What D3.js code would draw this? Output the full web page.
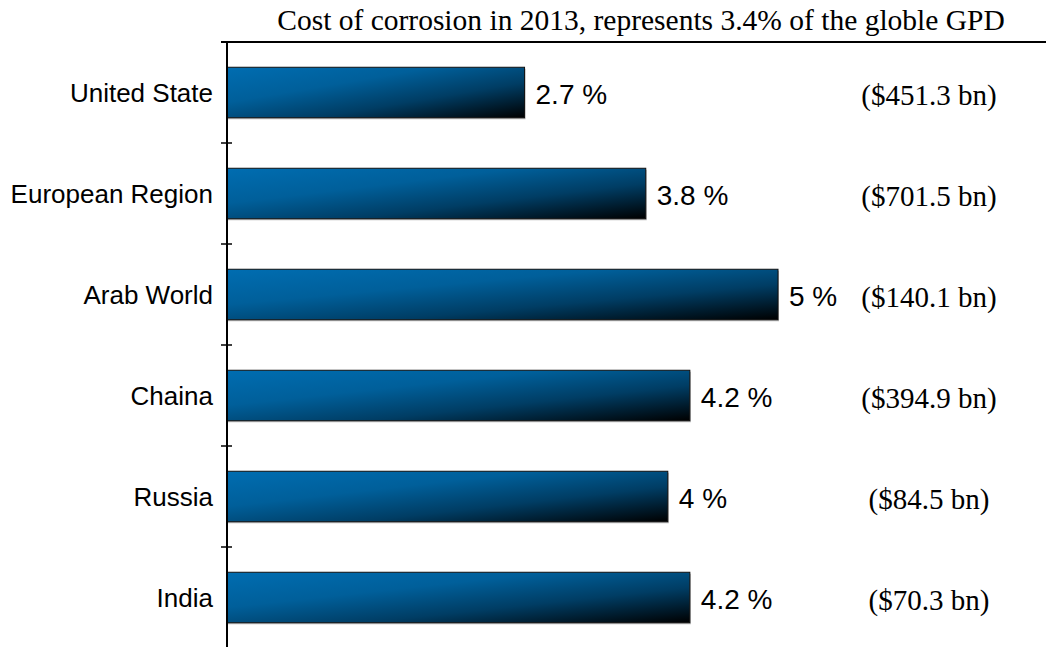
<!DOCTYPE html>
<html>
<head>
<meta charset="utf-8">
<script src="https://cdn.jsdelivr.net/npm/d3@7/dist/d3.min.js"></script>
<style>
  html, body { margin: 0; padding: 0; background: #fff; }
  svg { display: block; }
</style>
</head>
<body>
<svg id="chart" width="1046" height="647"></svg>
<script>
// Corrosion cost as share of GDP, 2013
const regions = ["United State", "European Region", "Arab World", "Chaina", "Russia", "India"];
const percentOfGdp = [2.7, 3.8, 5, 4.2, 4, 4.2];
const costBillions = [451.3, 701.5, 140.1, 394.9, 84.5, 70.3];
const chartTitle = "Cost of corrosion in 2013, represents 3.4% of the globle GPD";

const svg = d3.select("#chart");
const W = 1046, H = 647;
const plotLeft = 227, plotTop = 42, plotBottom = 648;

const x = d3.scaleLinear().domain([0, 5]).range([plotLeft, 778]);
const y = d3.scaleBand().domain(regions).range([plotTop, plotBottom]).paddingInner(0.5).paddingOuter(0.25);
const step = y.step();

// Bar fill: blue at top-left fading to black at bottom-right
const defs = svg.append("defs");
const grad = defs.append("linearGradient")
  .attr("id", "barFill")
  .attr("x1", 0).attr("y1", 0).attr("x2", 1).attr("y2", 1);
grad.append("stop").attr("offset", 0).attr("stop-color", "#006db1");
grad.append("stop").attr("offset", 0.35).attr("stop-color", "#005f9a");
grad.append("stop").attr("offset", 0.65).attr("stop-color", "#003d64");
grad.append("stop").attr("offset", 1).attr("stop-color", "#000000");

// Title
svg.append("text")
  .attr("x", 641).attr("y", 30)
  .attr("text-anchor", "middle")
  .attr("font-family", "'Liberation Serif', 'Times New Roman', serif")
  .attr("font-size", 29.5)
  .attr("fill", "#000")
  .text(chartTitle);

// Top frame line
svg.append("line")
  .attr("x1", 221).attr("x2", W).attr("y1", plotTop).attr("y2", plotTop)
  .attr("stroke", "#000").attr("stroke-width", 2);

const rows = regions.map((r, i) => ({ region: r, pct: percentOfGdp[i], cost: costBillions[i] }));

// Bar shadows and bars
svg.append("g").selectAll("rect")
  .data(rows).join("rect")
  .attr("x", plotLeft + 1)
  .attr("y", d => y(d.region) + 1.5)
  .attr("width", d => x(d.pct) - plotLeft)
  .attr("height", y.bandwidth())
  .attr("fill", "#b8b8b8");

svg.append("g").selectAll("rect")
  .data(rows).join("rect")
  .attr("x", plotLeft)
  .attr("y", d => y(d.region))
  .attr("width", d => x(d.pct) - plotLeft)
  .attr("height", y.bandwidth())
  .attr("fill", "url(#barFill)")
  .attr("stroke", "#111")
  .attr("stroke-width", 1);

// Category axis with ticks at band boundaries
const axisG = svg.append("g");
axisG.append("line")
  .attr("x1", plotLeft).attr("x2", plotLeft).attr("y1", plotTop).attr("y2", H)
  .attr("stroke", "#000").attr("stroke-width", 2);
axisG.selectAll("line.tick")
  .data(regions.slice(1)).join("line")
  .attr("class", "tick")
  .attr("x1", plotLeft - 6).attr("x2", plotLeft + 5)
  .attr("y1", d => y(d) - step * 0.25)
  .attr("y2", d => y(d) - step * 0.25)
  .attr("stroke", "#000").attr("stroke-width", 1.5);

// Category labels
svg.append("g").selectAll("text")
  .data(rows).join("text")
  .attr("x", 213)
  .attr("y", d => y(d.region) + y.bandwidth() / 2 + 9)
  .attr("text-anchor", "end")
  .attr("font-family", "'Liberation Sans', Arial, sans-serif")
  .attr("font-size", 26)
  .attr("fill", "#000")
  .text(d => d.region);

// Percentage labels at bar ends
svg.append("g").selectAll("text")
  .data(rows).join("text")
  .attr("x", d => x(d.pct) + 11)
  .attr("y", d => y(d.region) + y.bandwidth() / 2 + 11)
  .attr("font-family", "'Liberation Sans', Arial, sans-serif")
  .attr("font-size", 28)
  .attr("fill", "#000")
  .text(d => d.pct + " %");

// Cost labels
svg.append("g").selectAll("text")
  .data(rows).join("text")
  .attr("x", 929)
  .attr("y", d => y(d.region) + y.bandwidth() / 2 + 12)
  .attr("text-anchor", "middle")
  .attr("font-family", "'Liberation Serif', 'Times New Roman', serif")
  .attr("font-size", 29)
  .attr("fill", "#000")
  .text(d => "($" + d.cost + " bn)");
</script>
</body>
</html>
